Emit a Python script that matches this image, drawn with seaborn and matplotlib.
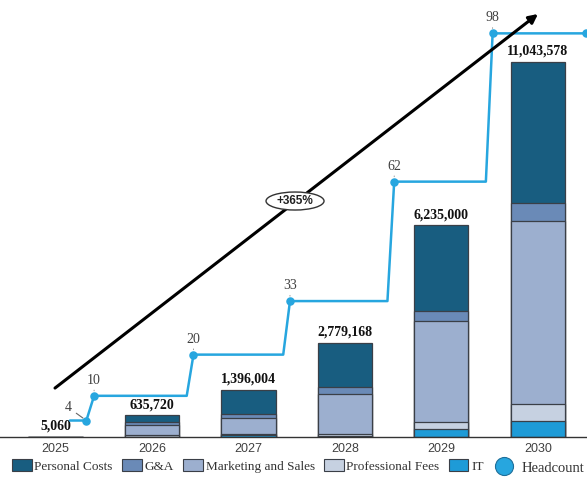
import matplotlib
matplotlib.use("Agg")
import matplotlib.pyplot as plt
import seaborn as sns
import numpy as np
from matplotlib.patches import Patch, Ellipse
from matplotlib.lines import Line2D

# %% datos
years = ["2025", "2026", "2027", "2028", "2029", "2030"]
personal_costs = [3060, 200000, 707000, 1296000, 2521000, 4152578]
g_and_a = [500, 85000, 118000, 206000, 294000, 530000]
marketing_sales = [1000, 300000, 471000, 1178000, 2974000, 5389000]
professional_fees = [500, 40000, 50000, 60000, 206000, 501000]
it_costs = [0, 10720, 50004, 39168, 240000, 471000]

# headcount: momento (año fraccional) y valor
hc_start = 2025.15
hc_time = [2025.32, 2025.40, 2026.43, 2027.43, 2028.51, 2029.53, 2030.50]
hc_vals = [4, 10, 20, 33, 62, 98, 98]
growth_label = "+365%"

# %% estilo
sns.set_style("white")
plt.rcParams["font.family"] = ["Liberation Sans", "DejaVu Sans"]
SERIF = ["Liberation Serif", "DejaVu Serif"]

EDGE = "#3a3f47"
HC = "#27a6df"
layers = [
    ("IT", it_costs, "#1e9bd7"),
    ("Professional Fees", professional_fees, "#c6d1e1"),
    ("Marketing and Sales", marketing_sales, "#9cafcf"),
    ("G&A", g_and_a, "#6a8ab7"),
    ("Personal Costs", personal_costs, "#185d80"),
]

fig = plt.figure(figsize=(5.87, 4.79), dpi=100)
ax = fig.add_axes([0, 42 / 479, 1, 437 / 479])

# barras apiladas: se dibuja la suma acumulada de arriba hacia abajo
stack = np.cumsum([vals for _, vals, _ in layers], axis=0)
for k in range(len(layers) - 1, -1, -1):
    sns.barplot(
        x=years,
        y=stack[k],
        color=layers[k][2],
        saturation=1,
        width=0.56,
        edgecolor=EDGE,
        linewidth=0.9,
        errorbar=None,
        ax=ax,
    )

totals = stack[-1]
ax.bar_label(
    ax.containers[0],
    labels=[f"{int(t):,}" for t in totals],
    padding=3,
    fontsize=10,
    fontweight="bold",
    family=SERIF,
    color="#111111",
)

ax.set_xlim(-0.575, 5.508)
ax.set_ylim(0, 12.87e6)
ax.set_yticks([])
ax.set_xlabel("")
ax.set_ylabel("")
for side in ["top", "left", "right"]:
    ax.spines[side].set_visible(False)
ax.spines["bottom"].set_color("#333333")
ax.spines["bottom"].set_linewidth(1.0)
ax.tick_params(axis="x", length=0, pad=4, labelsize=9, labelcolor="#404040")

# %% headcount en eje secundario
ax2 = ax.twinx()
ax2.set_ylim(0, 106.1)
ax2.set_yticks([])
for side in ["top", "left", "right", "bottom"]:
    ax2.spines[side].set_visible(False)

hc_x = [t - 2025 for t in hc_time]
xs = [hc_start - 2025]
ys = [hc_vals[0]]
for i, (x, v) in enumerate(zip(hc_x, hc_vals)):
    if i >= 2:
        xs.append(x - 0.07)
        ys.append(hc_vals[i - 1])
    xs.append(x)
    ys.append(v)
ax2.plot(xs, ys, color=HC, lw=1.8, zorder=4)
ax2.scatter(hc_x, hc_vals, color=HC, s=26, zorder=5)

for i, (x, v) in enumerate(zip(hc_x[:-1], hc_vals[:-1])):
    if i == 0:
        ax2.annotate(
            str(v), xy=(x, v), xytext=(-18, 13), textcoords="offset pixels",
            ha="center", va="center", fontsize=10, family=SERIF, color="#404040",
            arrowprops=dict(arrowstyle="-", color="#666666", lw=0.8,
                            shrinkA=1, shrinkB=3),
        )
    else:
        ax2.annotate(
            str(v), xy=(x, v), xytext=(0, 9), textcoords="offset pixels",
            ha="center", va="bottom", fontsize=10, family=SERIF, color="#404040",
            arrowprops=dict(arrowstyle="-", color="#888888", lw=0.6, ls=":",
                            shrinkA=0, shrinkB=3),
        )

# flecha de crecimiento
ax2.annotate(
    "", xy=(0.9165, 0.968), xytext=(0.0937, 0.112),
    xycoords="axes fraction", textcoords="axes fraction",
    arrowprops=dict(arrowstyle="-|>", color="black", lw=2.2, mutation_scale=13,
                    shrinkA=0, shrinkB=0),
    zorder=6,
)
ax2.add_patch(Ellipse((0.5026, 0.54), width=58 / 587, height=18 / 437,
                      transform=ax2.transAxes, facecolor="white",
                      edgecolor="#333333", lw=1.0, zorder=7))
ax2.text(0.5026, 0.54, growth_label, transform=ax2.transAxes, ha="center",
         va="center", fontsize=8.5, fontweight="bold", color="#222222", zorder=8)

# %% leyendas
handles = [Patch(facecolor=c, edgecolor=EDGE, lw=0.8, label=name)
           for name, _, c in layers[::-1]]
leg = fig.legend(
    handles=handles, loc="center left", bbox_to_anchor=(12 / 587, 1 - 466 / 479),
    ncol=5, frameon=False, handlelength=1.5, handleheight=1.0,
    handletextpad=0.2, columnspacing=0.7, borderpad=0, borderaxespad=0,
    prop={"family": SERIF, "size": 9.5},
)
for t in leg.get_texts():
    t.set_color("#333333")

hc_handle = Line2D([], [], marker="o", ls="", markersize=13,
                   markerfacecolor=HC, markeredgecolor="#1f6f9a",
                   markeredgewidth=0.8, label="Headcount")
leg2 = fig.legend(
    handles=[hc_handle], loc="center left", bbox_to_anchor=(495 / 587, 1 - 468 / 479),
    frameon=False, handlelength=1.3, handletextpad=0.5, borderpad=0,
    borderaxespad=0, prop={"family": SERIF, "size": 10.5},
)
for t in leg2.get_texts():
    t.set_color("#333333")

fig.savefig("out.png", dpi=100)
